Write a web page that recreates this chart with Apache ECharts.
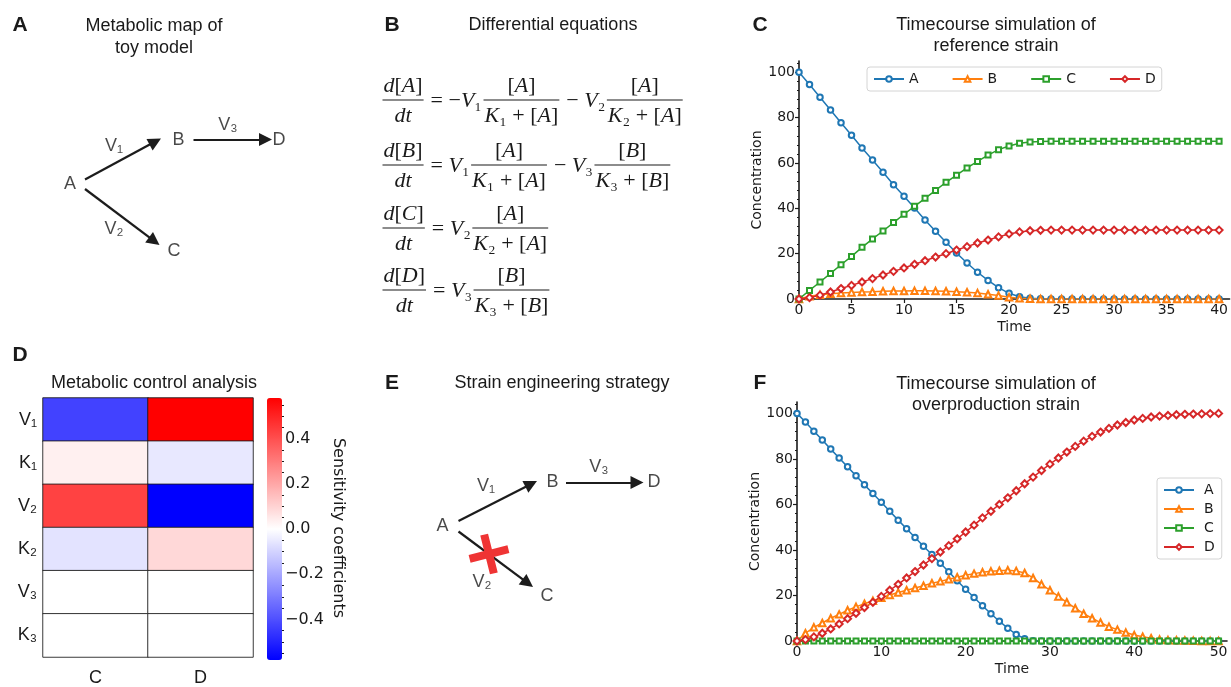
<!DOCTYPE html>
<html>
<head>
<meta charset="utf-8">
<title>Toy model: map, equations, control analysis and timecourses</title>
<script src="https://cdn.jsdelivr.net/npm/echarts@6.0.0/dist/echarts.min.js"></script>
<style>
  html, body { margin: 0; padding: 0; background: #fff; }
  #chart { width: 1231px; height: 687px; }
</style>
</head>
<body>
<div id="chart"></div>
<script>
var SANS = '"Liberation Sans", Arial, sans-serif';
var MPL = '"DejaVu Sans", sans-serif';
var SERIF = '"Liberation Serif", "DejaVu Serif", serif';
var INK = '#1a1a1a';

// ---- panel C: reference strain, t = 0..40
var refA = [100, 94.6, 89, 83.4, 77.8, 72.2, 66.6, 61.3, 55.9, 50.4, 45.3, 40.1, 34.9, 29.9, 25, 20.3, 15.9, 11.8, 8.2, 5, 2.5, 1, 0.3, 0.1,
  0, 0, 0, 0, 0, 0, 0, 0, 0, 0, 0, 0, 0, 0, 0, 0, 0];
var refB = [0, 1.2, 1.9, 2.3, 2.6, 2.9, 3.1, 3.2, 3.4, 3.5, 3.5, 3.6, 3.6, 3.5, 3.4, 3.2, 3.0, 2.6, 2.1, 1.5, 0.8, 0.3, 0.1,
  0, 0, 0, 0, 0, 0, 0, 0, 0, 0, 0, 0, 0, 0, 0, 0, 0, 0];
var refC = [0, 3.8, 7.5, 11.3, 15.1, 18.8, 22.8, 26.5, 30, 33.7, 37.4, 40.9, 44.4, 47.9, 51.5, 54.6, 57.8, 60.7, 63.5, 65.9, 67.5, 68.7, 69.3, 69.5,
  69.6, 69.6, 69.6, 69.6, 69.6, 69.6, 69.6, 69.6, 69.6, 69.6, 69.6, 69.6, 69.6, 69.6, 69.6, 69.6, 69.6];
var refD = [0, 0.6, 1.7, 3.1, 4.6, 6.0, 7.5, 9.0, 10.6, 12.2, 13.7, 15.3, 16.9, 18.5, 20, 21.6, 23.1, 24.7, 26, 27.4, 28.7, 29.6, 30.1, 30.3,
  30.4, 30.4, 30.4, 30.4, 30.4, 30.4, 30.4, 30.4, 30.4, 30.4, 30.4, 30.4, 30.4, 30.4, 30.4, 30.4, 30.4];

// ---- panel F: overproduction strain, t = 0..50
var overA = [100, 96.2, 92.2, 88.3, 84.3, 80.4, 76.5, 72.6, 68.6, 64.8, 61, 57, 53.1, 49.3, 45.5, 41.6, 38, 34.2, 30.4, 26.5, 22.7, 19.1, 15.5, 12, 8.7, 5.6, 2.9, 1, 0.1,
  0, 0, 0, 0, 0, 0, 0, 0, 0, 0, 0, 0, 0, 0, 0, 0, 0, 0, 0, 0, 0, 0];
var overB = [0, 3.4, 6, 7.9, 10, 11.7, 13.5, 15, 16.4, 17.7, 19, 20.2, 21.3, 22.3, 23.3, 24.3, 25.4, 26.2, 27.1, 28, 28.9, 29.6, 30.2, 30.6, 30.9, 31.1,
  30.8, 29.9, 27.7, 24.9, 22.3, 19.6, 17, 14.4, 12, 10, 8.1, 6.3, 5, 3.7, 2.6, 1.9, 1.2, 0.7, 0.4, 0.3, 0.2, 0.1, 0, 0, 0];
var overC = [0, 0, 0, 0, 0, 0, 0, 0, 0, 0, 0, 0, 0, 0, 0, 0, 0, 0, 0, 0, 0, 0, 0, 0, 0, 0,
  0, 0, 0, 0, 0, 0, 0, 0, 0, 0, 0, 0, 0, 0, 0, 0, 0, 0, 0, 0, 0, 0, 0, 0, 0];
var overD = [0, 0.6, 1.8, 3.4, 5.3, 7.5, 9.8, 12.2, 14.7, 17, 19.6, 22.3, 24.9, 27.7, 30.5, 33.4, 36.2, 39.1, 41.9, 44.9, 47.9, 50.9, 54.1, 57, 60, 62.9,
  66, 69.1, 72, 74.9, 77.7, 80.4, 83, 85.5, 87.8, 89.9, 91.8, 93.4, 94.9, 96, 97.1, 97.8, 98.4, 98.8, 99.1, 99.4, 99.6, 99.7, 99.8, 99.9, 100];

var species = ['A', 'B', 'C', 'D'];
var refTimeTicks = [0, 5, 10, 15, 20, 25, 30, 35, 40];
var overTimeTicks = [0, 10, 20, 30, 40, 50];
var concTicks = [0, 20, 40, 60, 80, 100];
var concMinorTicks = [4, 8, 12, 16, 24, 28, 32, 36, 44, 48, 52, 56, 64, 68, 72, 76, 84, 88, 92, 96, 104];

// ---- panel D: metabolic control analysis
var mcaParams = ['V₁', 'K₁', 'V₂', 'K₂', 'V₃', 'K₃'];
var mcaTargets = ['C', 'D'];
var sensC = [-0.43, 0.034, 0.43, -0.064, 0, 0];
var sensD = [0.58, -0.052, -0.58, 0.089, 0, 0];
var cbarTicks = [-0.4, -0.2, 0, 0.2, 0.4];
var cbarMinorTicks = [-0.55, -0.5, -0.45, -0.35, -0.3, -0.25, -0.15, -0.1, -0.05, 0.05, 0.1, 0.15, 0.25, 0.3, 0.35, 0.45, 0.5, 0.55];

// ---- panel B: equation text (numerator/denominator pairs are fractions)
var eqRows = [
  [['d[A]', 'dt'], ' = −V₁', ['[A]', 'K₁ + [A]'], ' − V₂', ['[A]', 'K₂ + [A]']],
  [['d[B]', 'dt'], ' = V₁', ['[A]', 'K₁ + [A]'], ' − V₃', ['[B]', 'K₃ + [B]']],
  [['d[C]', 'dt'], ' = V₂', ['[A]', 'K₂ + [A]']],
  [['d[D]', 'dt'], ' = V₃', ['[B]', 'K₃ + [B]']]
];

// ---- panels A and E: pathway diagrams (pixel layout on a hidden full-page grid)
var mapLabels = [['A', 70, 184], ['B', 178.5, 140], ['C', 174, 251], ['D', 279, 140],
  ['V₁', 114, 146], ['V₂', 114, 229], ['V₃', 228, 125]];
var mapArrows = [[[85, 179.5], [161, 138.5]], [[85, 189], [159.5, 245]], [[193.5, 139.5], [272, 139.5]]];
var strainLabels = [['A', 442.5, 526], ['B', 552.5, 482.5], ['C', 547, 596.5], ['D', 654, 482.5],
  ['V₁', 486, 486], ['V₃', 599, 467], ['V₂', 482, 582]];
var strainArrows = [[[458.5, 521], [537, 481]], [[458.5, 531.5], [533, 587]], [[566, 482.5], [643.5, 482.5]]];
var knockout = [489, 554];

var colors = ['#1f77b4', '#ff7f0e', '#2ca02c', '#d62728'];
var symbols = ['emptyCircle', 'emptyTriangle', 'emptyRect', 'emptyDiamond'];
var symbolSizes = [5.5, 6.5, 5, 7];
var HEAD = 13;

function pts(values) {
  return values.map(function (v, i) { return [i, v]; });
}

function arrowData(list) {
  return list.map(function (a) {
    var dx = a[1][0] - a[0][0], dy = a[1][1] - a[0][1];
    var k = HEAD / 2 / Math.sqrt(dx * dx + dy * dy);
    return { coords: [a[0], [a[1][0] - dx * k, a[1][1] - dy * k]] };
  });
}

function labelData(list) {
  return list.map(function (l) { return { name: l[0], value: [l[1], l[2]] }; });
}

function speciesSeries(values, i, xi, yi) {
  return {
    type: 'line', name: species[i], xAxisIndex: xi, yAxisIndex: yi,
    data: pts(values),
    symbol: symbols[i], symbolSize: symbolSizes[i], showAllSymbol: true,
    color: colors[i],
    lineStyle: { width: 1.5, color: colors[i] },
    itemStyle: { color: colors[i], borderWidth: 1 },
    emphasis: { disabled: true }
  };
}

function timeAxis(grid, max, ticks) {
  return {
    gridIndex: grid, type: 'value', min: 0, max: max, splitLine: { show: false },
    axisLine: { onZero: false, lineStyle: { color: INK, width: 1.6 } },
    axisTick: { customValues: ticks, length: 4, lineStyle: { color: INK, width: 1.2 } },
    axisLabel: { customValues: ticks, color: INK, fontFamily: MPL, fontSize: 14, margin: 4 },
    name: 'Time', nameLocation: 'middle', nameGap: 21,
    nameTextStyle: { color: INK, fontFamily: MPL, fontSize: 14 }
  };
}

function concAxis(grid) {
  return {
    gridIndex: grid, type: 'value', min: 0, max: 105, splitLine: { show: false },
    axisLine: { onZero: false, lineStyle: { color: INK, width: 1.6 } },
    axisTick: { customValues: concTicks, length: 4, lineStyle: { color: INK, width: 1.2 } },
    axisLabel: { customValues: concTicks, color: INK, fontFamily: MPL, fontSize: 14, margin: 4 },
    name: 'Concentration', nameLocation: 'middle', nameGap: 34,
    nameTextStyle: { color: INK, fontFamily: MPL, fontSize: 14 }
  };
}

function minorAxis(grid, min, max, ticks, pos) {
  return {
    gridIndex: grid, type: 'value', min: min, max: max, position: pos,
    axisLine: { show: false }, splitLine: { show: false }, axisLabel: { show: false },
    axisTick: { customValues: ticks, length: 2, lineStyle: { color: INK, width: 1 } }
  };
}

// ---- text and equation drawing
var graphics = [];
function addText(text, x, y, size, weight) {
  graphics.push({
    type: 'text', x: x, y: y, silent: true,
    style: { text: text, fontFamily: SANS, fontSize: size, fontWeight: weight || 'normal',
      fill: INK, align: 'center', verticalAlign: 'middle' }
  });
}

[['A', 20, 25], ['B', 392, 25], ['C', 760, 25], ['D', 20, 355], ['E', 392, 383], ['F', 760, 383]]
  .forEach(function (p) { addText(p[0], p[1], p[2], 21, 'bold'); });

[['Metabolic map of', 154, 26], ['toy model', 154, 48], ['Differential equations', 553, 25],
 ['Timecourse simulation of', 996, 25], ['reference strain', 996, 46],
 ['Metabolic control analysis', 154, 383], ['Strain engineering strategy', 562, 383],
 ['Timecourse simulation of', 996, 384], ['overproduction strain', 996, 405]]
  .forEach(function (p) { addText(p[0], p[1], p[2], 18); });

graphics.push({
  type: 'text', x: 338, y: 528, rotation: -Math.PI / 2, silent: true,
  style: { text: 'Sensitivity coefficients', fontFamily: MPL, fontSize: 16, fill: INK,
    align: 'center', verticalAlign: 'middle' }
});

var EQ_SIZE = 22;
var eqBarY = [100, 165, 228, 290];
var eqLeft = 381;
var measure = document.createElement('canvas').getContext('2d');
var eqRich = {
  i: { fontFamily: SERIF, fontStyle: 'italic', fontSize: EQ_SIZE, fill: INK },
  u: { fontFamily: SERIF, fontSize: EQ_SIZE, fill: INK }
};

function mathPiece(str) {
  var runs = [];
  Array.from(str).forEach(function (ch) {
    var it = /[A-Za-z]/.test(ch);
    if (runs.length && runs[runs.length - 1].it === it) runs[runs.length - 1].s += ch;
    else runs.push({ s: ch, it: it });
  });
  var width = 0, text = '';
  runs.forEach(function (r) {
    measure.font = (r.it ? 'italic ' : '') + EQ_SIZE + 'px ' + SERIF;
    width += measure.measureText(r.s).width;
    text += '{' + (r.it ? 'i' : 'u') + '|' + r.s + '}';
  });
  return { text: text, width: width };
}

eqRows.forEach(function (row, r) {
  var x = eqLeft, y = eqBarY[r];
  row.forEach(function (piece) {
    if (Array.isArray(piece)) {
      var num = mathPiece(piece[0]), den = mathPiece(piece[1]);
      var w = Math.max(num.width, den.width) + 5;
      graphics.push({ type: 'text', x: x + w / 2, y: y - 14, silent: true,
        style: { text: num.text, rich: eqRich, align: 'center', verticalAlign: 'middle' } });
      graphics.push({ type: 'text', x: x + w / 2, y: y + 16, silent: true,
        style: { text: den.text, rich: eqRich, align: 'center', verticalAlign: 'middle' } });
      graphics.push({ type: 'line', silent: true, shape: { x1: x + 1.5, y1: y, x2: x + w - 1.5, y2: y },
        style: { stroke: INK, lineWidth: 1.2 } });
      x += w;
    } else {
      var t = mathPiece(piece);
      graphics.push({ type: 'text', x: x, y: y + 1, silent: true,
        style: { text: t.text, rich: eqRich, align: 'left', verticalAlign: 'middle' } });
      x += t.width;
    }
  });
});

// ---- heatmap cells
var mcaData = [];
mcaParams.forEach(function (p, r) {
  mcaData.push([0, r, sensC[r]]);
  mcaData.push([1, r, sensD[r]]);
});

var chart = echarts.init(document.getElementById('chart'), null, { renderer: 'canvas' });

chart.setOption({
  animation: false,
  backgroundColor: '#fff',
  graphic: graphics,
  grid: [
    { left: 0, top: 0, width: 1231, height: 687 },       // 0 diagrams
    { left: 43, top: 398, width: 210, height: 262 },     // 1 heatmap
    { left: 267, top: 398, width: 15, height: 262 },     // 2 colorbar ticks
    { left: 799, top: 61, width: 432, height: 238 },     // 3 panel C
    { left: 797, top: 402, width: 430, height: 239 }     // 4 panel F
  ],
  xAxis: [
    { gridIndex: 0, type: 'value', min: 0, max: 1231, show: false },
    { gridIndex: 1, type: 'category', data: mcaTargets, position: 'bottom',
      axisLine: { show: false }, axisTick: { show: false }, splitLine: { show: false },
      axisLabel: { color: INK, fontFamily: SANS, fontSize: 18, margin: 12 } },
    { gridIndex: 2, type: 'value', show: false },
    timeAxis(3, 41, refTimeTicks),
    timeAxis(4, 51, overTimeTicks)
  ],
  yAxis: [
    { gridIndex: 0, type: 'value', min: 0, max: 687, inverse: true, show: false },
    { gridIndex: 1, type: 'category', data: mcaParams, inverse: true,
      axisLine: { show: false }, axisTick: { show: false }, splitLine: { show: false },
      axisLabel: { color: INK, fontFamily: SANS, fontSize: 18, margin: 6 } },
    { gridIndex: 2, type: 'value', min: -0.58, max: 0.58, position: 'right',
      axisLine: { show: false }, splitLine: { show: false },
      axisTick: { customValues: cbarTicks, length: 4, lineStyle: { color: INK, width: 1.2 } },
      axisLabel: { customValues: cbarTicks, color: INK, fontFamily: MPL, fontSize: 16, margin: 3,
        formatter: function (v) { var s = Math.abs(v).toFixed(1); return v < -1e-9 ? '−' + s : s; } } },
    minorAxis(2, -0.58, 0.58, cbarMinorTicks, 'right'),
    concAxis(3),
    minorAxis(3, 0, 105, concMinorTicks, 'left'),
    concAxis(4),
    minorAxis(4, 0, 105, concMinorTicks, 'left')
  ],
  visualMap: {
    type: 'continuous', seriesIndex: 0, min: -0.58, max: 0.58,
    inRange: { color: ['#0000ff', '#ffffff', '#ff0000'] },
    left: 267, top: 398, itemWidth: 15, itemHeight: 262, padding: 0,
    calculable: false, hoverLink: false, text: null, orient: 'vertical'
  },
  legend: [
    { data: species, orient: 'horizontal', left: 867, top: 67, padding: [5, 6],
      itemWidth: 30, itemHeight: 7, itemGap: 33, selectedMode: false,
      backgroundColor: 'rgba(255,255,255,0.85)', borderColor: '#d4d4d4', borderWidth: 1, borderRadius: 3,
      textStyle: { color: INK, fontFamily: MPL, fontSize: 14 } },
    { data: species, orient: 'vertical', left: 1157, top: 478, padding: [5, 7, 5, 6],
      itemWidth: 30, itemHeight: 7, itemGap: 5, selectedMode: false,
      backgroundColor: 'rgba(255,255,255,0.85)', borderColor: '#d4d4d4', borderWidth: 1, borderRadius: 3,
      textStyle: { color: INK, fontFamily: MPL, fontSize: 14, padding: [0, 0, 0, 5] } }
  ],
  series: [
    { type: 'heatmap', xAxisIndex: 1, yAxisIndex: 1, data: mcaData,
      itemStyle: { borderColor: 'rgba(25,25,25,0.85)', borderWidth: 1 },
      emphasis: { disabled: true } },
    speciesSeries(refA, 0, 3, 4), speciesSeries(refB, 1, 3, 4),
    speciesSeries(refC, 2, 3, 4), speciesSeries(refD, 3, 3, 4),
    speciesSeries(overA, 0, 4, 6), speciesSeries(overB, 1, 4, 6),
    speciesSeries(overC, 2, 4, 6), speciesSeries(overD, 3, 4, 6),
    { type: 'lines', coordinateSystem: 'cartesian2d', xAxisIndex: 0, yAxisIndex: 0, silent: true,
      data: arrowData(mapArrows.concat(strainArrows)),
      symbol: ['none', 'triangle'], symbolSize: HEAD, color: '#1c1c1c',
      lineStyle: { color: '#1c1c1c', width: 2.2, opacity: 1 } },
    { type: 'scatter', xAxisIndex: 0, yAxisIndex: 0, silent: true,
      data: labelData(mapLabels.concat(strainLabels)),
      symbolSize: 1, itemStyle: { color: 'rgba(0,0,0,0)' },
      label: { show: true, position: 'inside', formatter: '{b}', color: INK, fontFamily: SANS, fontSize: 18 } },
    { type: 'scatter', xAxisIndex: 0, yAxisIndex: 0, silent: true, z: 5,
      data: [knockout],
      symbol: 'path://M8,0 H12 V8 H20 V12 H12 V20 H8 V12 H0 V8 H8 Z', symbolSize: 40, symbolRotate: 14,
      itemStyle: { color: '#ef3434', opacity: 1 } }
  ]
});
</script>
</body>
</html>
